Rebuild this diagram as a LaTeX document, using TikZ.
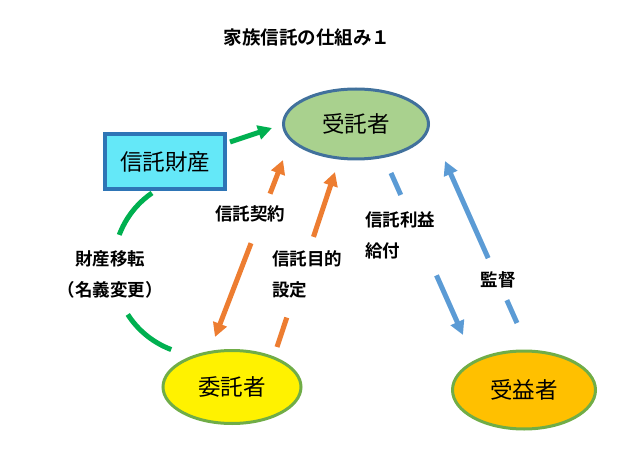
\documentclass[tikz,border=0pt]{standalone}
\usepackage{fontspec}
\setmainfont{Noto Sans CJK JP}[BoldFont={Noto Sans CJK JP Bold}]
\usetikzlibrary{arrows.meta,shapes.geometric}
\definecolor{cgreen}{HTML}{00B050}
\definecolor{corange}{HTML}{ED7D31}
\definecolor{cblue}{HTML}{5B9BD5}
\definecolor{cdkblue}{HTML}{41719C}
\definecolor{crectb}{HTML}{2E75B6}
\definecolor{ccyan}{RGB}{100,232,248}
\definecolor{clgreen}{HTML}{A9D18E}
\definecolor{cygreen}{HTML}{70AD47}
\definecolor{cgold}{HTML}{FFC000}
\tikzset{
  party/.style={ellipse, draw, line width=3pt, inner sep=0pt, font=\fontsize{22.5}{26}\selectfont},
  lbl/.style={font=\bfseries\fontsize{17.5}{31}\selectfont, inner sep=0pt},
  conn/.style={line width=5pt, -{Triangle[length=14pt,width=14pt]}},
}
\begin{document}
\begin{tikzpicture}[x=1pt,y=-1pt]
\useasboundingbox (0,0) rectangle (631,470);
\node[lbl, font=\bfseries\fontsize{18.5}{22}\selectfont] (title) at (307,37) {家族信託の仕組み１};
\node[party, fill=clgreen, draw=cdkblue, minimum width=145pt, minimum height=70pt] (jutaku) at (356,124) {受託者};
\node[party, fill=yellow, draw=cygreen, minimum width=138pt, minimum height=73pt] (itaku) at (232,387) {委託者};
\node[party, fill=cgold, draw=cygreen, minimum width=143pt, minimum height=78pt] (juek) at (524,390) {受益者};
\node[draw=crectb, fill=ccyan, line width=4pt, minimum width=120pt, minimum height=55pt, inner sep=0pt, font=\fontsize{22.5}{26}\selectfont] (zaisan) at (165,161.5) {信託財産};

\node[lbl] (keiyaku) at (250,214) {信託契約};
\node[lbl, anchor=west, align=left] (mokuteki) at (272,274) {信託目的\\設定};
\node[lbl, align=center] (iten) at (110,274) {財産移転\\（名義変更）};
\node[lbl, anchor=west, align=left] (rieki) at (365,235) {信託利益\\給付};
\node[lbl] (kantoku) at (498,280) {監督};

% green arrow from property to trustee
\coordinate (g1) at (230,142);
\coordinate (g2) at (272,128);
\draw[conn, cgreen] (g1) -- (g2);
% green arc
\draw[cgreen, line width=5pt, dash pattern=on 54pt off 83pt on 80pt] (152,193) arc[start angle=235.4, end angle=110.6, radius=89];

% orange: trust contract (double)
\coordinate (o1) at (283,160);
\coordinate (o2) at (215,337);
\draw[conn, {Triangle[length=14pt,width=14pt]}-{Triangle[length=14pt,width=14pt]}, corange, dash pattern=on 23pt off 53pt on 300pt] (o1) -- (o2);
% orange: purpose setting
\coordinate (o3) at (277,347);
\coordinate (o4) at (335,172);
\draw[conn, corange, dash pattern=on 31pt off 85pt on 300pt] (o3) -- (o4);
% blue: benefit
\coordinate (b1) at (391,173);
\coordinate (b2) at (463,335);
\draw[conn, cblue, dash pattern=on 24pt off 88pt on 300pt] (b1) -- (b2);
% blue: supervision
\coordinate (b3) at (517,323);
\coordinate (b4) at (445,161);
\draw[conn, cblue, dash pattern=on 25pt off 46pt on 300pt] (b3) -- (b4);
\end{tikzpicture}
\end{document}
